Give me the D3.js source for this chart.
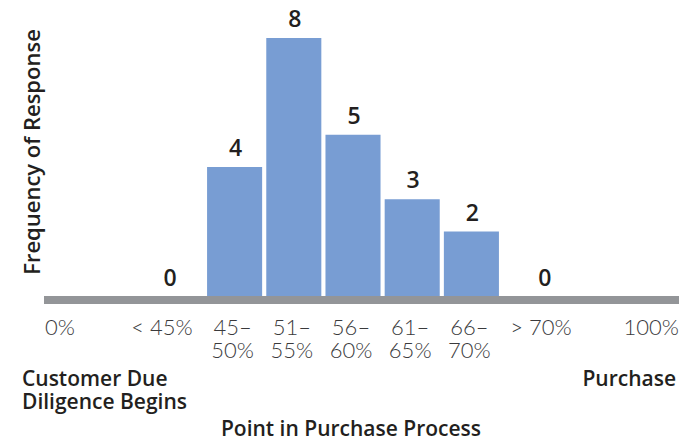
<!DOCTYPE html>
<html>
<head>
<meta charset="utf-8">
<script src="https://cdn.jsdelivr.net/npm/d3@7"></script>
<style>
	html, body { margin: 0; padding: 0; background: #fff; }
	svg text { font-family: "Open Sans", Lato, sans-serif; }
	svg .tick-label { font-family: Lato, "Open Sans", sans-serif; }
</style>
</head>
<body>
<svg id="chart" width="698" height="441"></svg>
<script>
"use strict";

// Data
var bins = ['45–50%', '51–55%', '56–60%', '61–65%', '66–70%'];
var binValues = [4, 8, 5, 3, 2];
var outerCats = ['< 45%', '> 70%'];
var outerValues = [0, 0];
var endLabels = ['0%', '100%'];
var endCaptions = [['Customer Due', 'Diligence Begins'], ['Purchase']];

+function(d3, window){

	var colors = {
		bar: '#789dd3',
		axis: '#939598',
		text: '#231f20',
		tick: '#3a3a3c'
	};

	var svg = d3.select('#chart');

	var axisLeft = 44,
		axisRight = 679,
		baseY = 296;

	//Scales
	var x = d3.scaleBand()
		.domain(bins)
		.range([205, 501])
		.paddingInner(0.07)
		.paddingOuter(0.035);

	var y = d3.scaleLinear()
		.domain([0, 8])
		.range([baseY, 38]);

	// where the two empty categories sit, next to the bars
	var outerX = [
		x(bins[0]) - 37,
		x(bins[bins.length - 1]) + x.bandwidth() + 46
	];

	//Bars
	svg.append('g').selectAll('rect')
		.data(binValues)
		.join('rect')
		.attr('x', function(d, i) { return x(bins[i]); })
		.attr('y', function(d) { return y(d); })
		.attr('width', x.bandwidth())
		.attr('height', function(d) { return y(0) - y(d); })
		.attr('fill', colors.bar);

	//Baseline
	svg.append('rect')
		.attr('x', axisLeft)
		.attr('y', baseY)
		.attr('width', axisRight - axisLeft)
		.attr('height', 8)
		.attr('fill', colors.axis);

	//Value labels
	var valueG = svg.append('g')
		.attr('font-size', 23)
		.attr('font-weight', 600)
		.attr('fill', colors.text)
		.attr('text-anchor', 'middle');

	valueG.selectAll('text.bin')
		.data(binValues)
		.join('text')
		.attr('class', 'bin')
		.attr('x', function(d, i) { return x(bins[i]) + x.bandwidth() / 2 + 1; })
		.attr('y', function(d) { return y(d) - 11; })
		.text(function(d) { return d; });

	valueG.selectAll('text.outer')
		.data(outerValues)
		.join('text')
		.attr('class', 'outer')
		.attr('x', function(d, i) { return outerX[i]; })
		.attr('y', function(d) { return y(d) - 10; })
		.text(function(d) { return d; });

	//Tick labels
	var tickG = svg.append('g')
		.attr('font-size', 22)
		.attr('font-weight', 300)
		.attr('fill', colors.tick)
		.attr('text-anchor', 'middle');

	var binCenter = function(d) { return x(d) + x.bandwidth() / 2 - 2; };

	tickG.selectAll('text.bin-top')
		.data(bins)
		.join('text')
		.attr('class', 'tick-label bin-top')
		.attr('x', binCenter)
		.attr('y', 335)
		.text(function(d) { return d.split('–')[0] + '–'; });

	tickG.selectAll('text.bin-bottom')
		.data(bins)
		.join('text')
		.attr('class', 'tick-label bin-bottom')
		.attr('x', binCenter)
		.attr('y', 358)
		.text(function(d) { return d.split('–')[1]; });

	tickG.selectAll('text.outer')
		.data(outerCats)
		.join('text')
		.attr('class', 'tick-label outer')
		.attr('x', function(d, i) { return outerX[i] + (i ? -4 : -8); })
		.attr('y', 335)
		.text(function(d) { return d; });

	tickG.selectAll('text.end')
		.data(endLabels)
		.join('text')
		.attr('class', 'tick-label end')
		.attr('x', function(d, i) { return i ? axisRight : axisLeft + 1; })
		.attr('y', 335)
		.attr('text-anchor', function(d, i) { return i ? 'end' : 'start'; })
		.text(function(d) { return d; });

	//Captions under the ends
	var capG = svg.append('g')
		.attr('font-size', 21)
		.attr('font-weight', 600)
		.attr('fill', colors.text);

	endCaptions.forEach(function(lines, i) {
		lines.forEach(function(line, j) {
			capG.append('text')
				.attr('text-anchor', i ? 'end' : 'start')
				.attr('x', i ? axisRight - 3 : 22)
				.attr('y', 386 + j * 23)
				.text(line);
		});
	});

	//Axis titles
	capG.append('text')
		.attr('x', 351)
		.attr('y', 436)
		.attr('text-anchor', 'middle')
		.text('Point in Purchase Process');

	capG.append('text')
		.attr('transform', 'translate(40,152) rotate(-90)')
		.attr('text-anchor', 'middle')
		.attr('font-size', 22)
		.text('Frequency of Response');

}(d3, window);
</script>
</body>
</html>
